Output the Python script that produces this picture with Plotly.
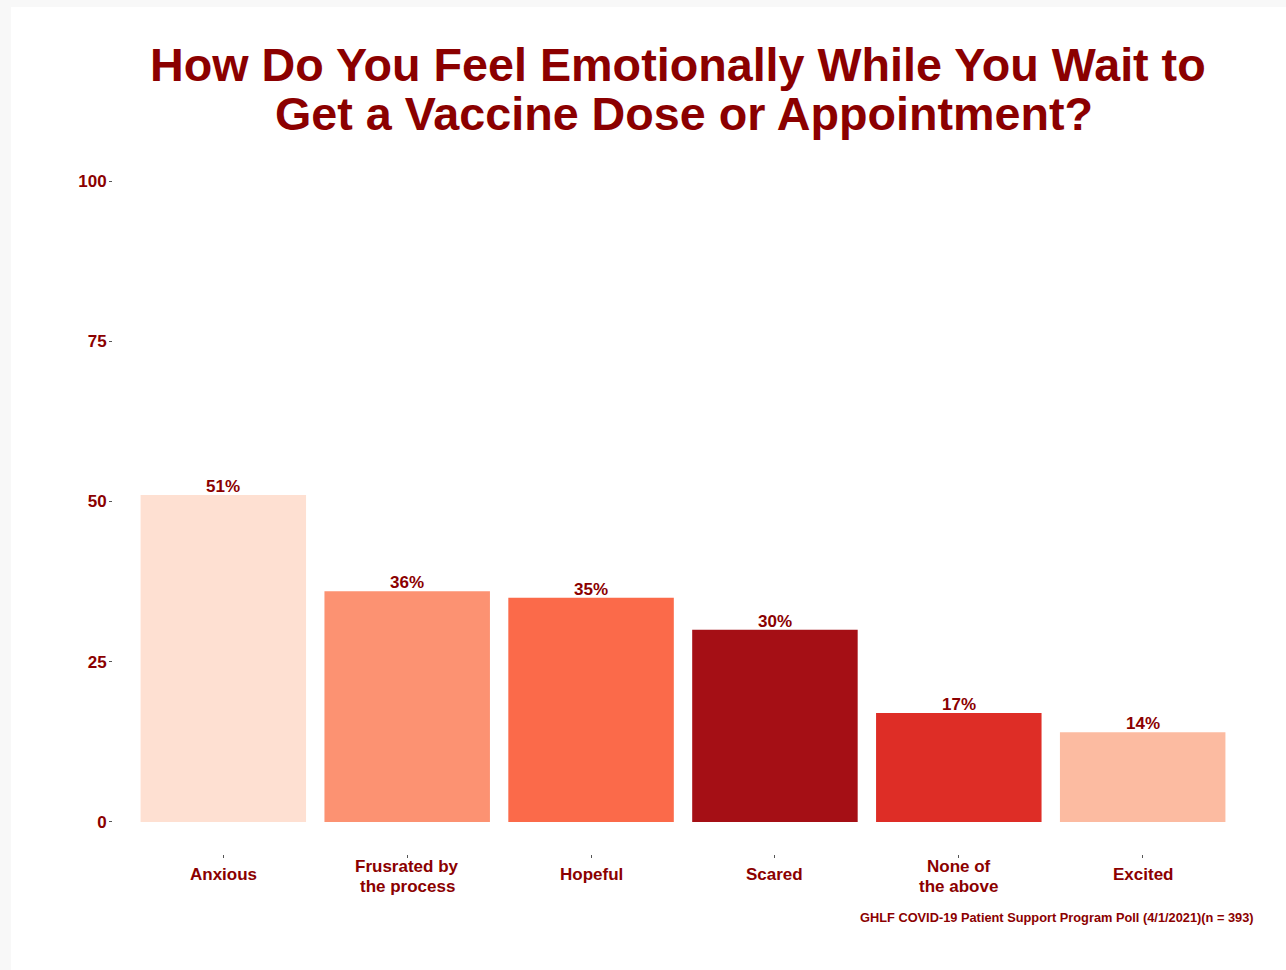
import plotly.graph_objects as go

# Survey responses (percent of respondents)
categories = ["Anxious", "Frusrated by<br>the process", "Hopeful", "Scared",
              "None of<br>the above", "Excited"]
values = [51, 36, 35, 30, 17, 14]
bar_colors = ["#FEE0D2", "#FC9272", "#FB6A4A", "#A50F15", "#DE2D26", "#FCBBA1"]
y_ticks = [0, 25, 50, 75, 100]
title_lines = ["How Do You Feel Emotionally While You Wait to",
               "Get a Vaccine Dose or Appointment?"]
caption = "GHLF COVID-19 Patient Support Program Poll (4/1/2021)(n = 393)"

TEXT = "#8B0000"
FONT = "Liberation Sans, Arial, sans-serif"

W, H = 1286, 970
M_L, M_R, M_T, M_B = 113, 33, 149, 116
PH = H - M_T - M_B


def py(pix):
    """Convert a pixel row into paper y coordinate."""
    return (H - M_B - pix) / PH


def px(pix):
    return (pix - M_L) / (W - M_L - M_R)


x_idx = list(range(len(categories)))

fig = go.Figure(go.Bar(
    x=x_idx,
    y=values,
    width=0.9,
    marker=dict(color=bar_colors, line=dict(width=0)),
    hoverinfo="skip",
))

annotations = []
# Title, one annotation per line
title_centers = [677.5, 684.5]
for i, line in enumerate(title_lines):
    annotations.append(dict(
        text=line, xref="paper", yref="paper", x=px(title_centers[i]),
        y=py(65 + 49 * i),
        xanchor="center", yanchor="middle", showarrow=False,
        font=dict(family=FONT, size=46.7, color=TEXT, weight="bold"),
    ))

# Percent labels sitting on top of each bar
for xi, v in zip(x_idx, values):
    annotations.append(dict(
        text=f"{v}%", xref="x", yref="y", x=xi, y=v,
        xanchor="center", yanchor="bottom", yshift=-3, showarrow=False,
        font=dict(family=FONT, size=17, color=TEXT, weight="bold"),
    ))

# Category labels under the bars, each line placed separately
for xi, cat in zip(x_idx, categories):
    parts = cat.split("<br>")
    n = len(parts)
    for j, part in enumerate(parts):
        yc = 874 if n == 1 else 876.5 + (j - (n - 1) / 2) * 19
        annotations.append(dict(
            text=part, xref="x", yref="paper", x=xi, y=py(yc),
            xanchor="center", yanchor="middle", showarrow=False,
            font=dict(family=FONT, size=17, color=TEXT, weight="bold"),
        ))

# Source caption
annotations.append(dict(
    text=caption, xref="paper", yref="paper", x=px(1256), y=py(918),
    xanchor="right", yanchor="middle", showarrow=False,
    font=dict(family=FONT, size=12.8, color=TEXT, weight="bold"),
))

fig.update_layout(
    width=W, height=H,
    margin=dict(l=M_L, r=M_R, t=M_T, b=M_B, pad=0),
    paper_bgcolor="#F8F8F8",
    plot_bgcolor="white",
    showlegend=False,
    annotations=annotations,
    shapes=[dict(type="rect", xref="paper", yref="paper", layer="below",
                 x0=px(11), x1=px(W + 5), y0=py(H + 5), y1=py(7),
                 fillcolor="white", line=dict(width=0))],
    xaxis=dict(
        range=[-0.6, len(categories) - 0.4],
        tickvals=x_idx, showticklabels=False,
        ticks="outside", ticklen=3, tickwidth=1, tickcolor="#555555",
        showgrid=False, zeroline=False, showline=False, fixedrange=True,
    ),
    yaxis=dict(
        range=[-5, 105], tickvals=y_ticks,
        ticks="outside", ticklen=3, tickwidth=1, tickcolor="#555555",
        ticklabelstandoff=-1,
        tickfont=dict(family=FONT, size=17, color=TEXT, weight="bold"),
        showgrid=False, zeroline=False, showline=False, fixedrange=True,
    ),
    font=dict(family=FONT, color=TEXT),
)

fig.write_html("out.html", config={"displayModeBar": False})
